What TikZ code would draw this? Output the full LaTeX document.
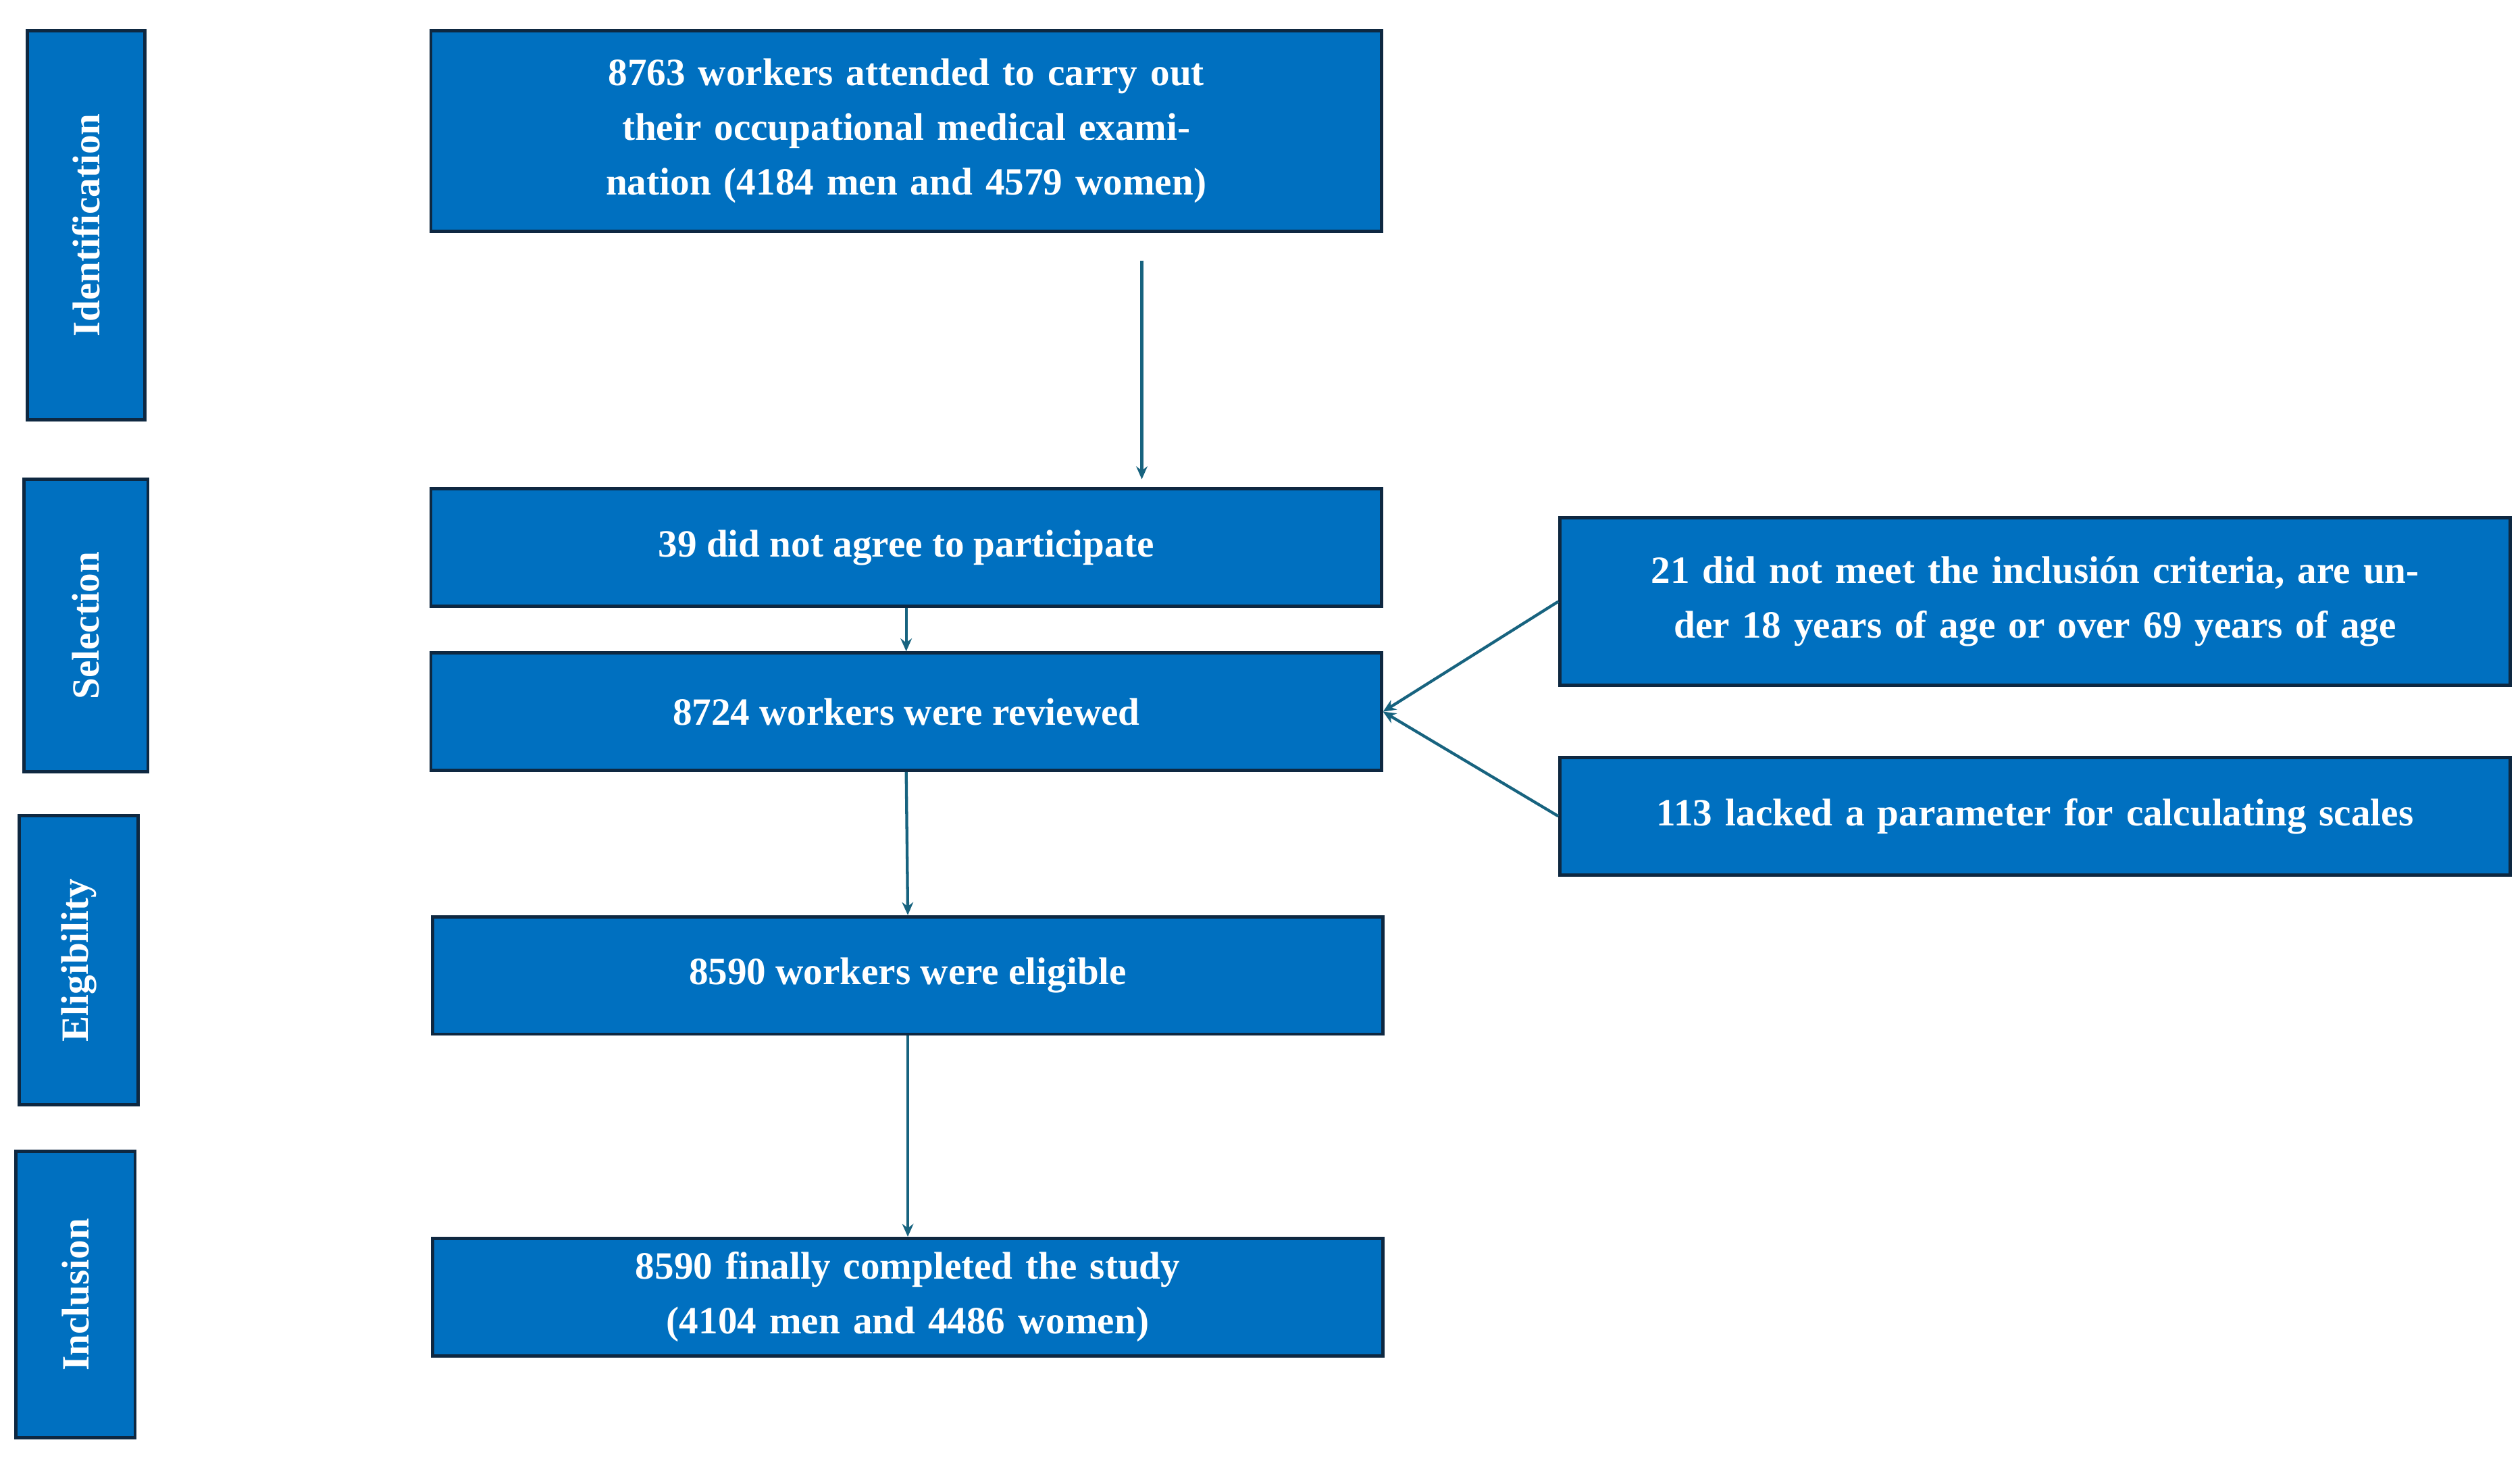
\documentclass[tikz,border=0pt]{standalone}
\usepackage{fontspec}
\setmainfont{Liberation Serif}
\usetikzlibrary{arrows.meta}
\definecolor{bfill}{HTML}{0070C0}
\definecolor{bdraw}{HTML}{0E2841}
\definecolor{arr}{HTML}{17637F}
\begin{document}
\begin{tikzpicture}[x=1pt,y=-1pt,
 box/.style={draw=bdraw,line width=2pt,fill=bfill,text=white,font=\fontsize{24}{34}\selectfont\bfseries,align=center,inner sep=0pt},
 side/.style={box,rotate=90},
 ar/.style={draw=arr,line width=1.8pt,-{Stealth[length=8pt,width=7pt]}}]
\useasboundingbox (0,0) rectangle (1567,907);
\newcommand{\bx}[6]{\node[#6,minimum width=#3-#1,minimum height=#4-#2,text width=#3-#1-20] (#5) at ({(#1+#3)/2},{(#2+#4)/2}) {};}
\node[box,minimum width=591,minimum height=125,text width=560] (b1) at (563.5,81.5) {8763 workers attended to carry out their occupational medical examination (4184 men and 4579 women)};
\node[box,minimum width=591,minimum height=73] (b2) at (563.5,340.5) {39 did not agree to participate};
\node[box,minimum width=591,minimum height=73] (b3) at (563.5,442.5) {8724 workers were reviewed};
\node[box,minimum width=591,minimum height=73] (b4) at (564.5,606.5) {8590 workers were eligible};
\node[box,minimum width=591,minimum height=73,text width=560] (b5) at (564.5,806.5) {8590 finally completed the study (4104 men and 4486 women)};
\node[box,minimum width=591,minimum height=104,text width=570] (r1) at (1265.5,374) {21 did not meet the inclusión criteria, are under 18 years of age or over 69 years of age};
\node[box,minimum width=591,minimum height=73,text width=570] (r2) at (1265.5,507.5) {113 lacked a parameter for calculating scales};
\node[side,minimum width=242,minimum height=73] (s1) at (53.5,140) {Identification};
\node[side,minimum width=182,minimum height=77] (s2) at (53.5,389) {Selection};
\node[side,minimum width=180,minimum height=74] (s3) at (49,597) {Eligibility};
\node[side,minimum width=178,minimum height=74] (s4) at (47,805) {Inclusion};
\coordinate (a1) at (710,162);
\draw[ar] (a1) -- (710,298);
\draw[ar] (b2.south) -- (b3.north);
\draw[ar] (b3.south) -- (b4.north);
\draw[ar] (b4.south) -- (b5.north);
\draw[ar] (r1.west) -- (b3.east);
\draw[ar] (r2.west) -- (b3.east);
\end{tikzpicture}
\end{document}
